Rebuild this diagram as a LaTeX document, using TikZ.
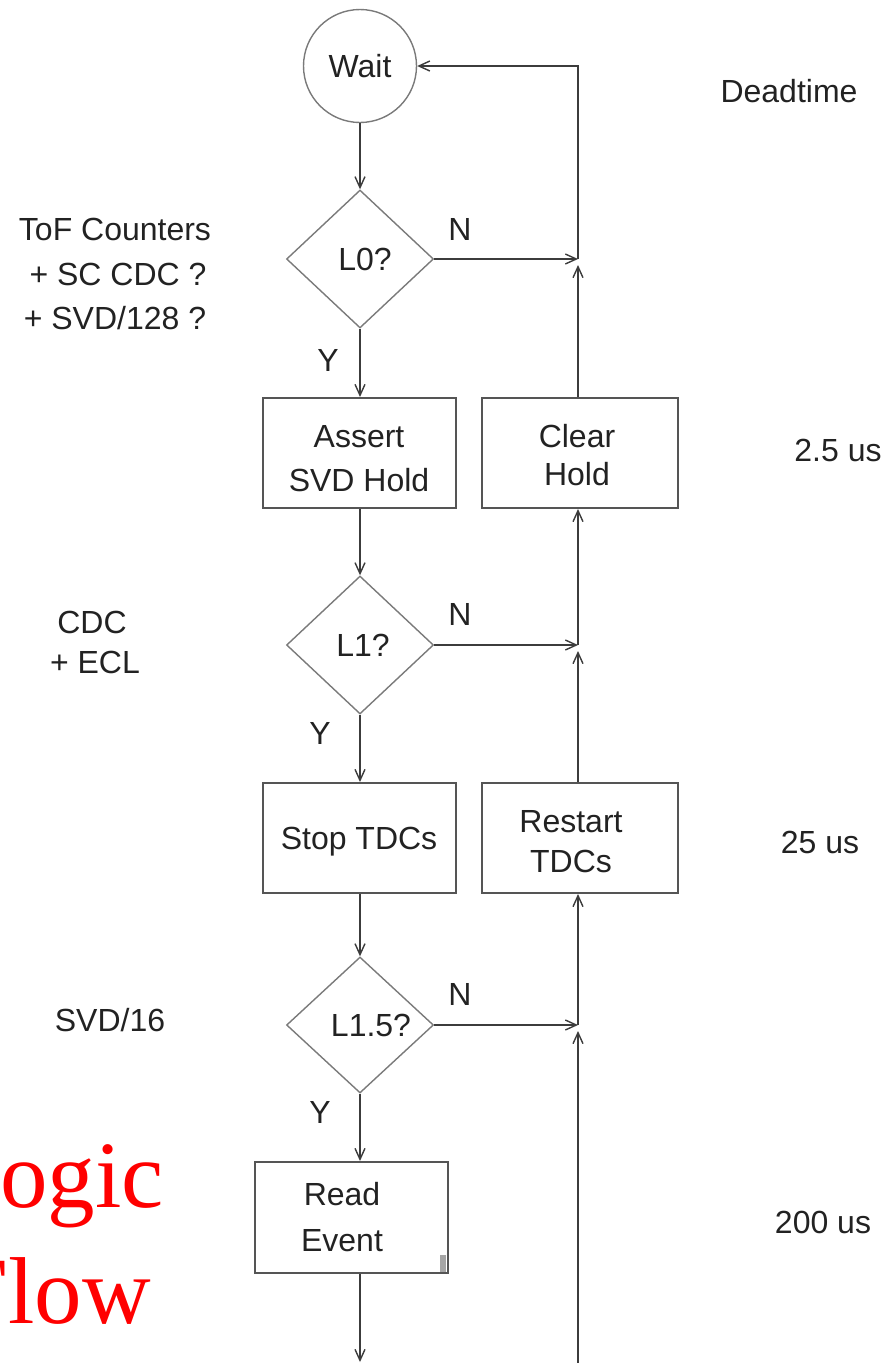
\documentclass[tikz,border=0pt]{standalone}
\usepackage{fontspec}
\setmainfont{Liberation Sans}
\newfontfamily\redserif{Liberation Serif}
\usetikzlibrary{shapes.geometric,arrows.meta}
\definecolor{linec}{HTML}{3C3C3C}
\definecolor{boxc}{HTML}{555555}
\definecolor{diac}{HTML}{7A7A7A}
\definecolor{txtc}{HTML}{222222}
\tikzset{
  lbl/.style={font=\fontsize{32}{44}\selectfont, text=txtc, inner sep=0pt, align=center},
  stepbox/.style={draw=boxc, line width=2pt, rectangle, minimum width=193pt, minimum height=110pt, inner sep=0pt},
  decision/.style={draw=diac, line width=1.4pt, diamond, minimum width=147pt, minimum height=138pt, inner sep=0pt, font=\fontsize{32}{40}\selectfont, text=txtc},
  waitnode/.style={draw=diac, line width=1.4pt, circle, minimum size=113pt, inner sep=0pt, font=\fontsize{32}{40}\selectfont, text=txtc},
  arr/.style={draw=linec, line width=1.6pt, -{Straight Barb[length=11pt,width=10pt,line width=1.4pt]}},
}
\begin{document}
\begin{tikzpicture}[x=1pt,y=-1pt]
\useasboundingbox (0,0) rectangle (886,1363);
\clip (0,0) rectangle (886,1363);
% nodes
\node[waitnode] (wait) at (360,66) {Wait};
\node[decision] (d0) at (360,259) {\hspace*{10pt}L0?};
\node[stepbox] (assert) at (359.5,453) {};
\node[lbl] (assertT) at (359,459) {Assert\\SVD Hold};
\node[stepbox, minimum width=196pt] (clear) at (580,453) {};
\node[lbl, font=\fontsize{32}{38}\selectfont] (clearT) at (577,455) {Clear\\Hold};
\node[decision] (d1) at (360,645) {\hspace*{6pt}L1?};
\node[stepbox] (stop) at (359.5,838) {};
\node[lbl] (stopT) at (359,842) {Stop TDCs};
\node[stepbox, minimum width=196pt] (restart) at (580,838) {};
\node[lbl, font=\fontsize{32}{40}\selectfont] (restartT) at (571,842) {Restart\\TDCs};
\node[decision, minimum height=136pt] (d2) at (360,1025) {\hspace*{22pt}L1.5?};
\node[stepbox, minimum height=111pt] (read) at (351.5,1217.5) {};
\node[lbl, font=\fontsize{32}{46}\selectfont] (readT) at (342,1217) {Read\\Event};
\fill[gray!70] (440,1255) rectangle (446,1272);
% coordinates
\coordinate (j1) at (578,259);
\coordinate (j2) at (578,645);
\coordinate (j3) at (578,1025);
\coordinate (botR) at (578,1363);
\coordinate (botL) at (360,1362);
% connectors
\draw[arr] (wait) -- (d0);
\draw[arr] (d0.east) -- (j1);
\draw[arr] (clear.north -| j1) -- ([yshift=-6pt]j1);
\draw[arr] (j1) |- (wait.east);
\draw[arr] (d0.south) -- (d0.south |- assert.north);
\draw[arr] (assert.south -| d1.north) -- (d1.north);
\draw[arr] (d1.east) -- (j2);
\draw[arr] (j2) -- (clear.south -| j2);
\draw[arr] (restart.north -| j2) -- ([yshift=-6pt]j2);
\draw[arr] (d1.south) -- (d1.south |- stop.north);
\draw[arr] (stop.south -| d2.north) -- (d2.north);
\draw[arr] (d2.east) -- (j3);
\draw[arr] (j3) -- (restart.south -| j3);
\draw[arr] (botR) -- ([yshift=-6pt]j3);
\draw[arr] (d2.south) -- (d2.south |- read.north);
\draw[arr] (read.south -| botL) -- (botL);
% Y / N labels
\node[lbl] (n0) at (460,229) {N};
\node[lbl] (n1) at (460,614) {N};
\node[lbl] (n2) at (460,994) {N};
\node[lbl] (y0) at (328,360) {Y};
\node[lbl] (y1) at (320,733) {Y};
\node[lbl] (y2) at (320,1112) {Y};
% left labels
\node[lbl] (tof) at (115,229) {ToF Counters};
\node[lbl] (sc) at (118,274) {+ SC CDC ?};
\node[lbl] (svd) at (115,318) {+ SVD/128 ?};
\node[lbl] (cdc) at (92,622) {CDC};
\node[lbl] (ecl) at (95,662) {+ ECL};
\node[lbl] (svd16) at (110,1020) {SVD/16};
% right labels
\node[lbl] (dead) at (789,91) {Deadtime};
\node[lbl] (t1) at (838,450) {2.5 us};
\node[lbl] (t2) at (820,842) {25 us};
\node[lbl] (t3) at (823,1222) {200 us};
% red title
\node[text=red, font=\redserif\fontsize{95}{116}\selectfont, align=center, inner sep=0pt, anchor=base] (title) at (53,1323) {Logic\\Flow};
\end{tikzpicture}
\end{document}
